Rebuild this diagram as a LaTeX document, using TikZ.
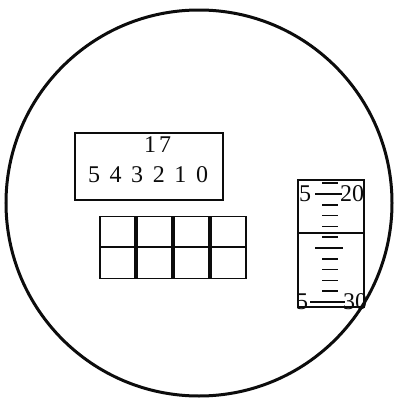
\documentclass[tikz,border=0pt]{standalone}
\usepackage{fontspec}
\setmainfont{Liberation Serif}
\usepackage{xcolor}
\definecolor{ink}{RGB}{12,12,12}
\usepackage{tikz}
\usetikzlibrary{positioning}
\tikzset{
  %% outer field of view
  lens/.style={draw=ink, line width=3pt, circle, inner sep=0pt},
  %% thin frames and cells
  frame/.style={draw=ink, line width=1.3pt, inner sep=0pt},
  digit/.style={font=\fontsize{24}{24}\selectfont, text=ink, inner sep=0pt},
  tickmark/.style={draw=ink, line width=1.6pt},
}

\begin{document}
\begin{tikzpicture}[x=1pt,y=-1pt]
\useasboundingbox (0,0) rectangle (395,399);
\node[lens, minimum size=386pt] (view) at (199,203) {};

%% counter window
\node[frame, minimum width=148pt, minimum height=67pt] (counter) at (149,166.5) {};
\node[digit] (hi1) at (150,145) {1};
\node[digit] (hi2) at (165,145) {7};
\foreach \d [count=\i] in {5,4,3,2,1,0}
  \node[digit] (low\i) at ({72.4+21.6*\i},175) {\d};

%% grid of cells
\foreach \c in {0,...,3}
  \foreach \r in {0,1}
    \node[frame, minimum width=35pt, minimum height=30.5pt]
      (cell\c\r) at ({117.5+37*\c},{231.5+31.5*\r}) {};

%% scale
\node[frame, minimum width=66pt, minimum height=127pt] (scale) at (331,243.5) {};
\draw[frame] (scale.west |- 0,233) -- (scale.east |- 0,233);
\foreach \k in {-1,1,2,3,4,6,7,8,9}
  \draw[tickmark] (322,{194+10.8*\k}) -- (338,{194+10.8*\k});
\draw[tickmark] (315,194) -- (342,194);
\draw[tickmark] (315,248) -- (343,248);
\draw[tickmark] (310,302) -- (345,302);
\node[digit] (top5) at (305,194) {5};
\node[digit] (top20) at (352,194) {20};
\node[digit] (bot5) at (302,302) {5};
\node[digit] (bot30) at (355,302) {30};
\end{tikzpicture}
\end{document}
